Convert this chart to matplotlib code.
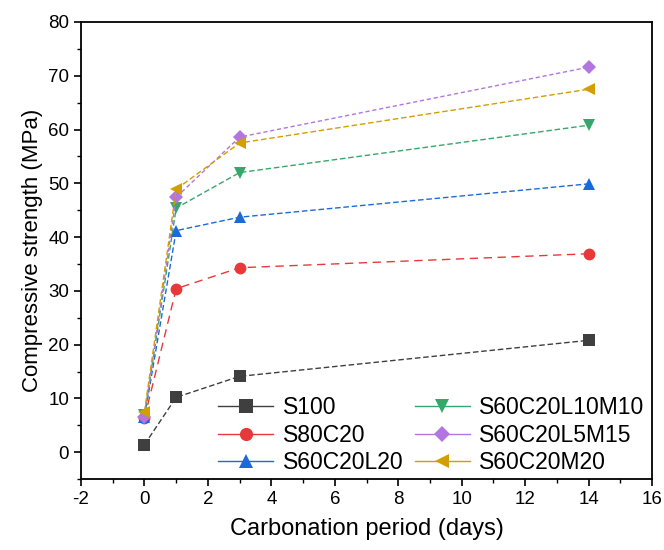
import matplotlib.pyplot as plt
from matplotlib.lines import Line2D

plt.rcParams['font.family'] = ['Liberation Sans', 'DejaVu Sans']

days = [0, 1, 3, 14]
s100 = [1.4, 10.2, 14.1, 20.8]
s80c20 = [6.3, 30.4, 34.3, 36.9]
s60c20l20 = [6.5, 41.2, 43.7, 49.9]
s60c20l10m10 = [6.9, 45.4, 52.0, 60.8]
s60c20l5m15 = [6.6, 47.4, 58.6, 71.6]
s60c20m20 = [7.5, 48.9, 57.5, 67.5]

series = [
    ("S100", s100, "#3f3f3f", "s", (4, 2)),
    ("S80C20", s80c20, "#e8393a", "o", (6, 4)),
    ("S60C20L20", s60c20l20, "#1c6ad8", "^", (4, 2)),
    ("S60C20L10M10", s60c20l10m10, "#36a66a", "v", (4, 2)),
    ("S60C20L5M15", s60c20l5m15, "#b375e0", "D", (3, 2)),
    ("S60C20M20", s60c20m20, "#d39e00", "<", (4, 2)),
]

fig = plt.figure(figsize=(6.64, 5.5), dpi=100)
ax = fig.add_axes([0.122, 0.129, 0.86, 0.831])

handles = []
for name, vals, color, mk, dash in series:
    ms = 7.5 if mk == "D" else 8.5
    ax.plot(days, vals, color=color, lw=1.0, dashes=dash, marker=mk,
            markersize=ms, markeredgewidth=0)
    handles.append(Line2D([0], [0], color=color, lw=1.0, marker=mk,
                          markersize=ms + 1, markeredgewidth=0, label=name))

ax.set_xlim(-2, 16)
ax.set_ylim(-5, 80)
ax.set_xticks(range(-2, 17, 2))
ax.set_xticklabels(["-2", "0", "2", "4", "6", "8", "10", "12", "14", "16"])
ax.set_yticks(range(0, 81, 10))
ax.set_xticks(range(-1, 17, 2), minor=True)
ax.set_yticks(range(-5, 80, 10), minor=True)
ax.tick_params(which="major", direction="out", length=5, width=1.2, labelsize=13.5)
ax.tick_params(which="minor", direction="out", length=3, width=1.0)
for sp in ax.spines.values():
    sp.set_linewidth(1.3)

ax.set_xlabel("Carbonation period (days)", fontsize=17, labelpad=7)
ax.set_ylabel("Compressive strength (MPa)", fontsize=16, labelpad=4)

ax.legend(handles=handles, ncol=2, frameon=False, fontsize=16.5,
          loc="lower right", bbox_to_anchor=(1.01, -0.02),
          handlelength=2.4, handletextpad=0.4, columnspacing=0.5,
          labelspacing=0.2, borderaxespad=0.2)

plt.savefig("out.png", dpi=100)
